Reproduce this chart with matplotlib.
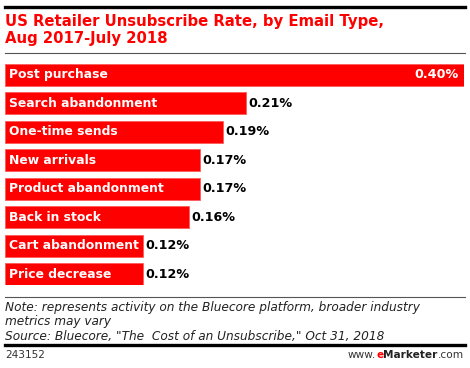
import matplotlib
matplotlib.use('Agg')
import matplotlib.pyplot as plt
from matplotlib.lines import Line2D

categories = ['Post purchase', 'Search abandonment', 'One-time sends', 'New arrivals',
              'Product abandonment', 'Back in stock', 'Cart abandonment', 'Price decrease']
rates = [0.40, 0.21, 0.19, 0.17, 0.17, 0.16, 0.12, 0.12]

W, H = 470, 368
RED = '#ff0000'
plt.rcParams['font.family'] = ['DejaVu Sans']

fig = plt.figure(figsize=(W / 100, H / 100), dpi=100)


def fx(px):
    return px / W


def fy(py):
    return 1 - py / H


def hline(py, lw, color):
    fig.add_artist(Line2D([fx(5), fx(465)], [fy(py), fy(py)], lw=lw, color=color,
                          transform=fig.transFigure))


# header
hline(7, 2.4, '#000000')
fig.text(fx(5), fy(26), 'US Retailer Unsubscribe Rate, by Email Type,', color=RED,
         fontsize=10.7, fontweight='bold', va='baseline')
fig.text(fx(5), fy(43.5), 'Aug 2017-July 2018', color=RED,
         fontsize=10.7, fontweight='bold', va='baseline')
hline(52.5, 0.8, '#555555')

# bars
ax = fig.add_axes([fx(5), fy(285), fx(464) - fx(5), (285 - 64) / H])
h = 0.76
y = list(range(len(categories)))
ax.barh(y, rates, height=h, color=RED, edgecolor='#ff5a5a', linewidth=0.6)
ax.set_xlim(0, 0.40)
ax.set_ylim(len(categories) - 1 + h / 2, -h / 2)
ax.axis('off')

for i, (cat, v) in enumerate(zip(categories, rates)):
    ax.text(0.0035, i, cat, color='white', fontsize=8.9, fontweight='bold',
            va='center', ha='left')
    if i == 0:
        ax.text(v - 0.005, i, f'{v:.2f}%', color='white', fontsize=9.2,
                fontweight='bold', va='center', ha='right')
    else:
        ax.text(v + 0.002, i, f'{v:.2f}%', color='black', fontsize=9.2,
                fontweight='bold', va='center', ha='left')

# footer
hline(297, 0.8, '#555555')
note_lines = ['Note: represents activity on the Bluecore platform, broader industry',
              'metrics may vary',
              'Source: Bluecore, "The  Cost of an Unsubscribe," Oct 31, 2018']
for k, line in enumerate(note_lines):
    fig.text(fx(5), fy(311 + k * 14.3), line, fontsize=8.7, style='italic',
             color='#222222', va='baseline', ha='left')
hline(344.5, 2.4, '#000000')
fig.text(fx(5), fy(355.5), '243152', fontsize=7.6, color='#333333', va='center')

# www.eMarketer.com, built right to left
fig.canvas.draw()
r = fig.canvas.get_renderer()
xr = fx(464)
for part, col, wt in [('.com', '#333333', 'normal'), ('Marketer', '#222222', 'bold'),
                      ('e', RED, 'bold'), ('www.', '#333333', 'normal')]:
    t = fig.text(xr, fy(355.5), part, fontsize=7.6, color=col, fontweight=wt,
                 va='center', ha='right')
    bb = t.get_window_extent(renderer=r)
    xr = bb.x0 / fig.bbox.width

fig.savefig('out.png', dpi=100)
